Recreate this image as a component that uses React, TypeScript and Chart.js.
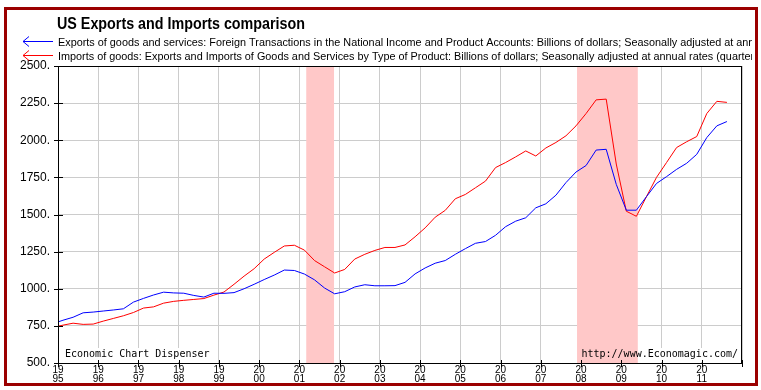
import React, { useEffect, useRef } from "react";
import { Chart, registerables } from "chart.js";

Chart.register(...registerables);

const quarters: string[] = [
  "1994Q4",
  "1995Q1", "1995Q2", "1995Q3", "1995Q4",
  "1996Q1", "1996Q2", "1996Q3", "1996Q4",
  "1997Q1", "1997Q2", "1997Q3", "1997Q4",
  "1998Q1", "1998Q2", "1998Q3", "1998Q4",
  "1999Q1", "1999Q2", "1999Q3", "1999Q4",
  "2000Q1", "2000Q2", "2000Q3", "2000Q4",
  "2001Q1", "2001Q2", "2001Q3", "2001Q4",
  "2002Q1", "2002Q2", "2002Q3", "2002Q4",
  "2003Q1", "2003Q2", "2003Q3", "2003Q4",
  "2004Q1", "2004Q2", "2004Q3", "2004Q4",
  "2005Q1", "2005Q2", "2005Q3", "2005Q4",
  "2006Q1", "2006Q2", "2006Q3", "2006Q4",
  "2007Q1", "2007Q2", "2007Q3", "2007Q4",
  "2008Q1", "2008Q2", "2008Q3", "2008Q4",
  "2009Q1", "2009Q2", "2009Q3", "2009Q4",
  "2010Q1", "2010Q2", "2010Q3", "2010Q4",
  "2011Q1", "2011Q2", "2011Q3",
];

const exportsValues: number[] = [
  765,
  788, 808, 838, 843,
  850, 857, 865, 910,
  935, 958, 977, 972,
  970, 955, 944, 970,
  969, 974, 1000, 1030,
  1062, 1092, 1126, 1123,
  1099, 1060, 1005, 966,
  980, 1012, 1027, 1020,
  1020, 1021, 1043, 1100,
  1140, 1172, 1190, 1232,
  1270, 1306, 1318, 1360,
  1418, 1455, 1478, 1545,
  1572, 1630, 1715, 1786,
  1830, 1934, 1939, 1703,
  1529, 1529, 1620, 1709,
  1755, 1804, 1845, 1905,
  2018, 2097, 2126,
];

const importsValues: number[] = [
  740,
  755, 768, 760, 762,
  782, 800, 818, 840,
  870, 878, 903, 915,
  922, 928, 934, 957,
  978, 1030, 1085, 1135,
  1200, 1245, 1288, 1293,
  1260, 1190, 1148, 1106,
  1130, 1200, 1232, 1258,
  1278, 1278, 1295, 1350,
  1410, 1482, 1528, 1606,
  1635, 1680, 1725, 1816,
  1850, 1888, 1928, 1894,
  1948, 1985, 2030, 2097,
  2180, 2272, 2277, 1840,
  1522, 1488, 1620, 1750,
  1850, 1951, 1990, 2025,
  2180, 2262, 2255,
];

const recessionStarts: number[] = [2001.17, 2007.9];
const recessionEnds: number[] = [2001.86, 2009.41];

const titleText = "US Exports and Imports comparison";
const exportsLabel =
  "Exports of goods and services: Foreign Transactions in the National Income and Product Accounts: Billions of dollars; Seasonally adjusted at annual rates (quarterly)";
const importsLabel =
  "Imports of goods: Exports and Imports of Goods and Services by Type of Product: Billions of dollars; Seasonally adjusted at annual rates (quarterly)";
const leftNote = "Economic Chart Dispenser";
const rightNote = "http://www.Economagic.com/";

function quarterToYear(q: string): number {
  const y = parseInt(q.slice(0, 4), 10);
  const n = parseInt(q.slice(5), 10);
  return y + (n - 0.5) / 4;
}

const decoPlugin = {
  id: "deco",
  beforeDraw(chart: any) {
    const ctx = chart.ctx;
    ctx.save();
    ctx.fillStyle = "#ffffff";
    ctx.fillRect(0, 0, chart.width, chart.height);
    ctx.restore();
  },
  beforeDatasetsDraw(chart: any) {
    const { ctx, chartArea } = chart;
    const { left, right, top, bottom } = chartArea;
    const x = chart.scales.x;
    ctx.save();
    ctx.fillStyle = "#ffffff";
    ctx.fillRect(left + 1, bottom - 15, 156, 14);
    ctx.fillRect(right - 164, bottom - 15, 163, 14);
    ctx.fillStyle = "#ffc8c8";
    for (let i = 0; i < recessionStarts.length; i++) {
      const a = x.getPixelForValue(recessionStarts[i]);
      const b = x.getPixelForValue(recessionEnds[i]);
      ctx.fillRect(a, top, b - a, bottom - top);
    }
    ctx.restore();
  },
  afterDatasetsDraw(chart: any) {
    const { ctx, chartArea } = chart;
    const { left, right, top, bottom } = chartArea;
    const x = chart.scales.x;
    const y = chart.scales.y;
    ctx.save();
    ctx.fillStyle = "#000";
    ctx.font = "10px 'DejaVu Sans Mono'";
    ctx.textBaseline = "alphabetic";
    ctx.textAlign = "left";
    ctx.fillText(leftNote, left + 7, bottom - 6);
    ctx.textAlign = "right";
    ctx.fillText(rightNote, right - 4, bottom - 6);

    ctx.strokeStyle = "#000";
    ctx.lineWidth = 1;
    ctx.strokeRect(Math.round(left) + 0.5, Math.round(top) + 0.5, Math.round(right - left) - 1, Math.round(bottom - top));
    ctx.beginPath();
    ctx.moveTo(Math.round(left) + 0.5, Math.round(top));
    ctx.lineTo(Math.round(left) + 0.5, Math.round(bottom) + 1);
    ctx.stroke();
    ctx.beginPath();
    y.ticks.forEach((t: any) => {
      const py = Math.round(y.getPixelForValue(t.value)) + 0.5;
      ctx.moveTo(Math.round(left) - 4, py);
      ctx.lineTo(Math.round(left) + 5, py);
    });
    x.ticks.forEach((t: any) => {
      const px = Math.round(x.getPixelForValue(t.value)) + 0.5;
      ctx.moveTo(px, Math.round(bottom) - 3);
      ctx.lineTo(px, Math.round(bottom) + 4);
    });
    ctx.stroke();

    ctx.textAlign = "left";
    ctx.fillStyle = "#000";
    ctx.font = "bold 16px 'Liberation Sans'";
    const w = ctx.measureText(titleText).width;
    const sx = 248 / w;
    ctx.save();
    ctx.translate(57, 29);
    ctx.scale(sx, 1);
    ctx.fillText(titleText, 0, 0);
    ctx.restore();

    ctx.beginPath();
    ctx.rect(0, 0, 752, chart.height);
    ctx.clip();
    const rows = [
      { label: exportsLabel, color: "#0000ff", ly: 41.5, ty: 46 },
      { label: importsLabel, color: "#ff0000", ly: 55.5, ty: 60 },
    ];
    rows.forEach((r) => {
      ctx.strokeStyle = r.color;
      ctx.lineWidth = 1;
      ctx.beginPath();
      ctx.moveTo(23, r.ly);
      ctx.lineTo(53, r.ly);
      ctx.moveTo(23, r.ly);
      ctx.lineTo(29, r.ly - 5);
      ctx.moveTo(23, r.ly);
      ctx.lineTo(29, r.ly + 5);
      ctx.stroke();
      ctx.fillStyle = "#000";
      ctx.font = "10.85px 'Liberation Sans'";
      ctx.fillText(r.label, 58, r.ty);
    });
    ctx.restore();

    ctx.save();
    ctx.strokeStyle = "#9b0000";
    ctx.lineWidth = 3;
    ctx.strokeRect(5.5, 8.5, 751, 376);
    ctx.restore();
  },
};

export default function App() {
  const ref = useRef<HTMLCanvasElement | null>(null);
  useEffect(() => {
    if (!ref.current) return;
    const xs = quarters.map(quarterToYear);
    const chart = new Chart(ref.current, {
      type: "line",
      data: {
        datasets: [
          {
            label: "Exports",
            data: xs.map((v, i) => ({ x: v, y: exportsValues[i] })),
            borderColor: "#0000ff",
            borderWidth: 1,
            pointRadius: 0,
            tension: 0,
            fill: false,
          },
          {
            label: "Imports",
            data: xs.map((v, i) => ({ x: v, y: importsValues[i] })),
            borderColor: "#ff0000",
            borderWidth: 1,
            pointRadius: 0,
            tension: 0,
            fill: false,
          },
        ],
      },
      options: {
        responsive: false,
        animation: false,
        devicePixelRatio: 1,
        layout: { padding: { left: 0, top: 66, right: 19, bottom: 0 } },
        plugins: {
          legend: { display: false },
          title: { display: false },
          tooltip: { enabled: false },
        },
        scales: {
          x: {
            type: "linear",
            min: 1995,
            max: 2012,
            afterFit: (s: any) => {
              s.height = 27;
            },
            grid: { color: "#cccccc", drawTicks: false, lineWidth: 1 },
            border: { display: false },
            ticks: {
              stepSize: 1,
              autoSkip: false,
              maxRotation: 0,
              padding: 2,
              color: "#000",
              font: { family: "'Liberation Sans'", size: 10, lineHeight: 0.95 },
              callback: (v: any) => {
                const n = Number(v);
                if (n >= 2012) return "";
                const s = String(n);
                return [s.slice(0, 2), s.slice(2)];
              },
            },
          },
          y: {
            min: 500,
            max: 2500,
            afterFit: (s: any) => {
              s.width = 58;
            },
            grid: { color: "#cccccc", drawTicks: false, lineWidth: 1 },
            border: { display: false },
            ticks: {
              stepSize: 250,
              padding: 8,
              color: "#000",
              font: { family: "'Liberation Sans'", size: 12 },
              callback: (v: any) => `${v}.`,
            },
          },
        },
      },
      plugins: [decoPlugin],
    });
    return () => chart.destroy();
  }, []);
  return (
    <div style={{ position: "fixed", left: 0, top: 0, width: 761, height: 390, background: "#fff" }}>
      <canvas ref={ref} width={761} height={390} style={{ display: "block", width: 761, height: 390 }} />
    </div>
  );
}
